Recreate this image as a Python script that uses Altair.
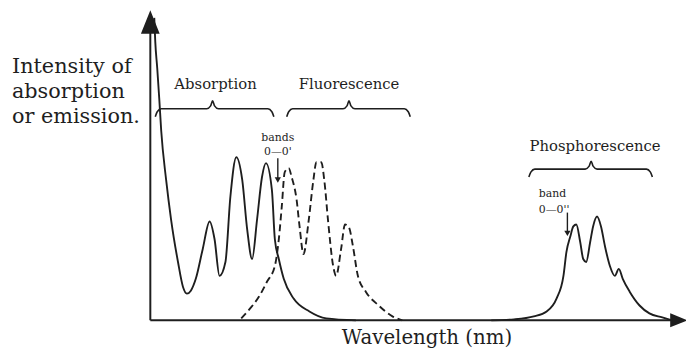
import altair as alt
import pandas as pd

# ---- curve data (x: wavelength, arbitrary units; y: intensity, arbitrary units) ----
abs_x = [4, 5, 7, 9, 11, 16, 21, 28, 33, 37, 41, 46, 53, 60, 65, 70, 76, 81, 87, 93, 98,
         103, 108, 113, 117, 123, 126, 130, 135, 145, 161, 178, 208]
abs_y = [306, 282, 255, 225, 192, 142, 102, 59, 34, 27, 30, 42, 72, 100, 82, 45, 59, 125, 165, 142, 92,
         62, 102, 145, 159, 132, 82, 62, 42, 22, 9, 2, 0]

flu_x = [92, 101, 110, 118, 126, 130, 133, 136, 140, 143, 148, 151, 155, 160, 165, 168, 173, 176,
         180, 185, 188, 193, 197, 201, 205, 210, 218, 231, 245, 255]
flu_y = [2, 12, 24, 39, 55, 82, 115, 150, 154, 145, 122, 95, 67, 99, 142, 160, 160, 142,
         99, 55, 45, 72, 97, 94, 75, 45, 29, 15, 4, 0]

pho_x = [345, 368, 388, 401, 411, 418, 421, 425, 428, 431, 435, 438, 441, 445, 448, 452, 456,
         460, 465, 470, 474, 478, 485, 495, 505, 518, 528]
pho_y = [0, 1, 4, 9, 22, 45, 69, 85, 95, 97, 79, 62, 59, 79, 95, 105, 95,
         75, 55, 45, 52, 42, 29, 15, 7, 3, 0]

# braces: left, centre, right, level
brace_names = ["Absorption", "Fluorescence", "Phosphorescence"]
brace_left = [5, 138, 383]
brace_mid = [63, 201, 446]
brace_right = [125, 263, 508]
brace_level = [214, 214, 153]
brace_label_y = [234, 234, 171]
brace_label_x = [66, 201, 450]

y_title = ["Intensity of", "absorption", "or emission."]
y_title_y = [250, 225, 200]
x_title = "Wavelength (nm)"

INK = "#1e1e1e"
FONT = "DejaVu Serif"
W, H = 686, 340
xs = alt.Scale(domain=[-144, 542], nice=False, zero=False)
ys = alt.Scale(domain=[-26, 314], nice=False, zero=False)

X = alt.X("x:Q", scale=xs, axis=None)
Y = alt.Y("y:Q", scale=ys, axis=None)

# curves
rows = []
for name, xx, yy in [("abs", abs_x, abs_y), ("flu", flu_x, flu_y), ("pho", pho_x, pho_y)]:
    for i, (a, b) in enumerate(zip(xx, yy)):
        rows.append({"series": name, "i": i, "x": a, "y": b})
curves = pd.DataFrame(rows)

solid = alt.Chart(curves[curves.series != "flu"]).mark_line(
    interpolate="monotone", stroke=INK, strokeWidth=1.9
).encode(x=X, y=Y, detail="series:N", order="i:Q")
dashed = alt.Chart(curves[curves.series == "flu"]).mark_line(
    interpolate="monotone", stroke=INK, strokeWidth=1.9, strokeDash=[7, 4]
).encode(x=X, y=Y, order="i:Q")

# braces
brows = []
for n, l, m, r, lv in zip(brace_names, brace_left, brace_mid, brace_right, brace_level):
    pts = [(l, lv - 8), (l + 2, lv - 3), (l + 6, lv), (m - 6, lv), (m - 2, lv + 3), (m, lv + 8),
           (m + 2, lv + 3), (m + 6, lv), (r - 6, lv), (r - 2, lv - 3), (r, lv - 8)]
    for i, (a, b) in enumerate(pts):
        brows.append({"brace": n, "i": i, "x": a, "y": b})
braces = alt.Chart(pd.DataFrame(brows)).mark_line(
    interpolate="monotone", stroke=INK, strokeWidth=1.6
).encode(x=X, y=Y, detail="brace:N", order="i:Q")

# axes
axes_df = pd.DataFrame({"x": [0, 0], "y": [0, 0], "x2": [532, 0], "y2": [0, 296]})
axes = alt.Chart(axes_df).mark_rule(stroke=INK, strokeWidth=2).encode(
    x=X, y=Y, x2="x2:Q", y2="y2:Q",
)
yarrow = alt.Chart(pd.DataFrame({"x": [0], "y": [301]})).mark_point(
    shape="M-0.8,1L0,-1L0.8,1Z", size=400, filled=True, fill=INK, stroke=INK, opacity=1
).encode(x=X, y=Y)
xarrow = alt.Chart(pd.DataFrame({"x": [534], "y": [0]})).mark_point(
    shape="M-1,-0.8L1,0L-1,0.8Z", size=196, filled=True, fill=INK, stroke=INK, opacity=1
).encode(x=X, y=Y)

# 0-0 band arrows
band_df = pd.DataFrame({"x": [129, 422], "y": [164, 109], "y2": [142, 88]})
band_rules = alt.Chart(band_df).mark_rule(stroke=INK, strokeWidth=1.4).encode(
    x=X, y=Y, y2="y2:Q"
)
band_heads = alt.Chart(pd.DataFrame({"x": [129, 422], "y": [142, 88]})).mark_point(
    shape="triangle-down", size=40, filled=True, fill=INK, opacity=1
).encode(x=X, y=Y)

# texts
ytitle = alt.Chart(pd.DataFrame({"x": [-140] * 3, "y": y_title_y, "t": y_title})).mark_text(
    align="left", baseline="alphabetic", font=FONT, fontSize=21, color=INK
).encode(x=X, y=Y, text="t:N")
xtitle = alt.Chart(pd.DataFrame({"x": [280], "y": [-24], "t": [x_title]})).mark_text(
    align="center", baseline="alphabetic", font=FONT, fontSize=20, color=INK
).encode(x=X, y=Y, text="t:N")
blabels = alt.Chart(pd.DataFrame({"x": brace_label_x, "y": brace_label_y, "t": brace_names})).mark_text(
    align="center", baseline="alphabetic", font=FONT, fontSize=15, color=INK
).encode(x=X, y=Y, text="t:N")
small_c = alt.Chart(pd.DataFrame({"x": [129, 129], "y": [181, 167], "t": ["bands", "0\u20140'"]})).mark_text(
    align="center", baseline="alphabetic", font=FONT, fontSize=11, color=INK
).encode(x=X, y=Y, text="t:N")
small_l = alt.Chart(pd.DataFrame({"x": [393, 393], "y": [125, 109], "t": ["band", "0\u20140''"]})).mark_text(
    align="left", baseline="alphabetic", font=FONT, fontSize=11, color=INK
).encode(x=X, y=Y, text="t:N")

chart = alt.layer(
    solid, dashed, braces, axes, yarrow, xarrow, band_rules, band_heads,
    ytitle, xtitle, blabels, small_c, small_l
).properties(
    width=W, height=H, padding=0,
    autosize=alt.AutoSizeParams(type="none"),
    background="white",
).configure_view(stroke=None)

chart.save("out.html", embed_options={"renderer": "svg", "actions": False})
